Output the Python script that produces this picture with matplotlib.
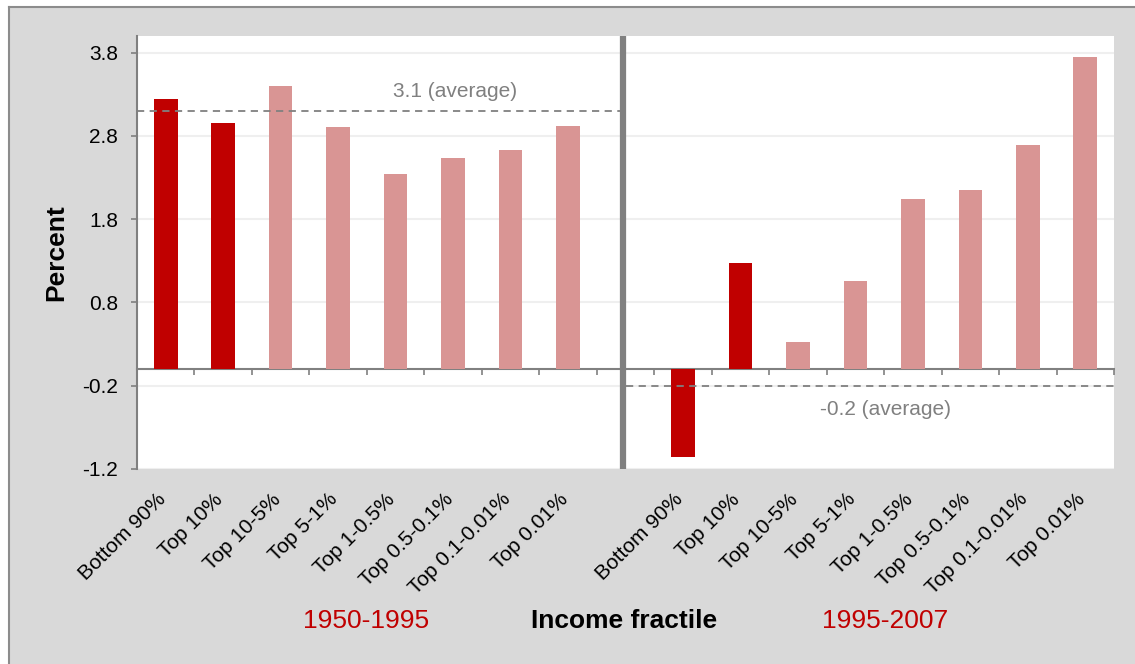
import numpy as np
import matplotlib.pyplot as plt
from matplotlib.lines import Line2D
from matplotlib.transforms import ScaledTranslation

# data
fractiles = ['Bottom 90%', 'Top 10%', 'Top 10-5%', 'Top 5-1%', 'Top 1-0.5%',
             'Top 0.5-0.1%', 'Top 0.1-0.01%', 'Top 0.01%']
growth_1950_1995 = [3.24, 2.96, 3.40, 2.91, 2.34, 2.53, 2.63, 2.92]
growth_1995_2007 = [-1.05, 1.27, 0.32, 1.06, 2.04, 2.15, 2.69, 3.75]
avg_1950_1995 = 3.1
avg_1995_2007 = -0.2
period_labels = ['1950-1995', '1995-2007']
yticks = [-1.2, -0.2, 0.8, 1.8, 2.8, 3.8]

dark_red = '#c00000'
pink = '#d99594'
grey = '#808080'

plt.rcParams['font.family'] = ['Liberation Sans', 'DejaVu Sans']

W, H = 1135, 664
fig = plt.figure(figsize=(W / 100, H / 100), dpi=100, facecolor='white')
# grey frame: only left and top edges are visible in the original
fig.patches.append(plt.Rectangle((9 / W, 0), 1, 1 - 7 / H, transform=fig.transFigure,
                                 facecolor='#d9d9d9', edgecolor='none', zorder=-10))
fig.add_artist(Line2D([9 / W, 9 / W], [0, 1 - 7 / H], transform=fig.transFigure, color='#8c8c8c', lw=1.5))
fig.add_artist(Line2D([9 / W, 1], [1 - 7 / H, 1 - 7 / H], transform=fig.transFigure, color='#8c8c8c', lw=1.5))

ax = fig.add_axes([137 / W, 1 - 469 / H, 977 / W, 433 / H])
ax.set_facecolor('white')

n = len(fractiles)
labels = fractiles + [''] + fractiles
values = growth_1950_1995 + [np.nan] + growth_1995_2007
x = np.arange(len(labels))
# bottom 90% and top 10% in dark red, the finer fractiles in pink
colors = ([dark_red, dark_red] + [pink] * (n - 2)) + ['white'] + ([dark_red, dark_red] + [pink] * (n - 2))
ax.bar(x, values, width=0.41, color=colors, zorder=3)

ax.set_xlim(-0.5, len(labels) - 0.5)
ax.set_ylim(-1.2, 4.0)
ax.set_yticks(yticks)
ax.set_yticklabels([f'{v:.1f}' for v in yticks], fontsize=15)
ax.yaxis.grid(True, color='#efefef', linewidth=1.5, zorder=0)
ax.tick_params(axis='y', length=4.5, color=grey, width=1.2, pad=9)

ax.set_xticks(x)
ax.set_xticklabels(labels, rotation=45, ha='right', rotation_mode='anchor', fontsize=15)
ax.tick_params(axis='x', length=0, pad=12)
shift = ScaledTranslation(-10 / 100, -4 / 100, fig.dpi_scale_trans)
for lab in ax.get_xticklabels():
    lab.set_transform(lab.get_transform() + shift)

for s in ['top', 'right', 'bottom']:
    ax.spines[s].set_visible(False)
ax.spines['left'].set_color(grey)
ax.spines['left'].set_linewidth(1.5)

# zero line with ticks between categories
ymin, ymax = ax.get_ylim()
zero_ax = ax.secondary_xaxis((0 - ymin) / (ymax - ymin))
zero_ax.set_xticks(np.arange(len(labels) + 1) - 0.5)
zero_ax.set_xticklabels([])
zero_ax.tick_params(length=4, color=grey, width=1.2)
zero_ax.spines['bottom'].set_color(grey)
zero_ax.spines['bottom'].set_linewidth(1.5)

# divider between the two periods
ax.axvline(n - 0.05, color=grey, linewidth=4.5, zorder=5)

# period averages
ax.plot([-0.5, n], [avg_1950_1995] * 2, color=grey, linestyle=(0, (4, 3)), linewidth=1.3, zorder=4)
ax.plot([n, len(labels) - 0.5], [avg_1995_2007] * 2, color=grey, linestyle=(0, (4, 3)),
        linewidth=1.3, zorder=4)
ax.text(5.03, avg_1950_1995 + 0.12, f'{avg_1950_1995:.1f} (average)', color=grey, fontsize=15,
        ha='center', va='bottom')
ax.text(12.52, avg_1995_2007 - 0.17, f'{avg_1995_2007:.1f} (average)', color=grey, fontsize=15,
        ha='center', va='top')

ax.set_ylabel('Percent', fontsize=19, fontweight='bold', labelpad=10)
fig.text(366 / W, 1 - 621 / H, period_labels[0], color=dark_red, fontsize=19, ha='center', va='center')
fig.text(624 / W, 1 - 621 / H, 'Income fractile', color='black', fontsize=19,
         fontweight='bold', ha='center', va='center')
fig.text(885 / W, 1 - 621 / H, period_labels[1], color=dark_red, fontsize=19, ha='center', va='center')

fig.savefig('out.png', dpi=100, facecolor=fig.get_facecolor())
